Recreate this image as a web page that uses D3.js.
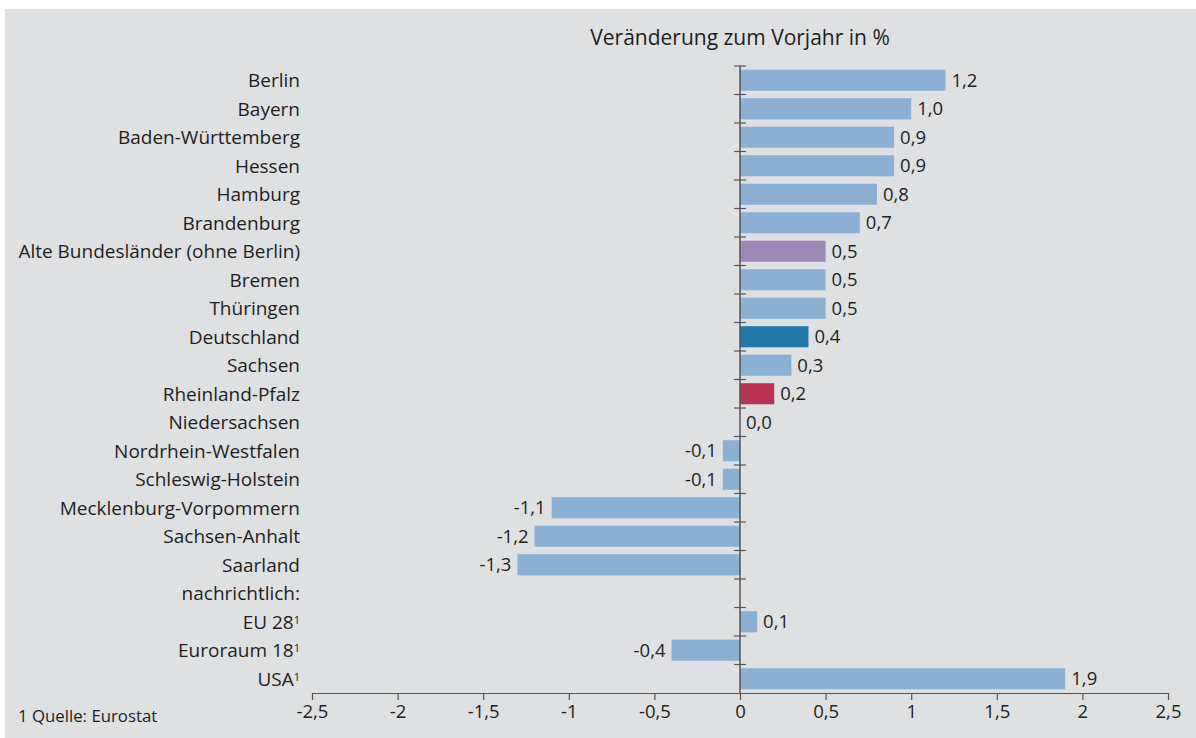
<!DOCTYPE html>
<html><head><meta charset="utf-8">
<script src="https://cdn.jsdelivr.net/npm/d3@7"></script>
<style>
html,body{margin:0;padding:0;background:#fff;}
svg{display:block;}
text{font-family:"Open Sans","Noto Sans",sans-serif;fill:#1e1e1e;}
</style></head>
<body>
<svg id="chart" width="1196" height="738"></svg>
<script>
const categories = ["Berlin","Bayern","Baden-Württemberg","Hessen","Hamburg","Brandenburg","Alte Bundesländer (ohne Berlin)","Bremen","Thüringen","Deutschland","Sachsen","Rheinland-Pfalz","Niedersachsen","Nordrhein-Westfalen","Schleswig-Holstein","Mecklenburg-Vorpommern","Sachsen-Anhalt","Saarland","nachrichtlich:","EU 28","Euroraum 18","USA"];
const values = [1.2,1.0,0.9,0.9,0.8,0.7,0.5,0.5,0.5,0.4,0.3,0.2,0.0,-0.1,-0.1,-1.1,-1.2,-1.3,null,0.1,-0.4,1.9];
const footnoted = ["EU 28","Euroraum 18","USA"];
const highlight = {"Alte Bundesländer (ohne Berlin)":"#9c89b5","Deutschland":"#1f78a9","Rheinland-Pfalz":"#b93255"};
const xTicks = [-2.5,-2,-1.5,-1,-0.5,0,0.5,1,1.5,2,2.5];
const title = "Veränderung zum Vorjahr in %";
const footnote = "1 Quelle: Eurostat";

const svg = d3.select("#chart");
svg.append("rect").attr("x",5).attr("y",9).attr("width",1191).attr("height",729).attr("fill","#dfe0e2");

const x = d3.scaleLinear().domain([-2.5,2.5]).range([312,1168]);
const y = d3.scaleBand().domain(categories).range([66,693]).paddingInner(0.26).paddingOuter(0.13);
const fmt = v => d3.format(".1f")(v).replace(".",",").replace("−","-");
const axisColor = "#555";

// bars
const data = categories.map((c,i)=>({c, v: values[i]}));
svg.append("g").selectAll("rect").data(data.filter(d=>d.v!==null)).join("rect")
  .attr("x", d=>x(Math.min(0,d.v)))
  .attr("y", d=>y(d.c))
  .attr("width", d=>Math.abs(x(d.v)-x(0)))
  .attr("height", y.bandwidth())
  .attr("fill", d=>highlight[d.c] || "#8ab1d3");

// value labels
svg.append("g").selectAll("text").data(data.filter(d=>d.v!==null)).join("text")
  .attr("x", d=> d.v<0 ? x(d.v)-6 : x(d.v)+6)
  .attr("y", d=>y(d.c)+y.bandwidth()/2)
  .attr("dy","0.36em")
  .attr("text-anchor", d=> d.v<0 ? "end":"start")
  .style("font-size","18.5px")
  .text(d=>fmt(d.v));

// category labels
const cl = svg.append("g").selectAll("text").data(categories).join("text")
  .attr("x",300)
  .attr("y", d=>y(d)+y.bandwidth()/2)
  .attr("dy","0.36em")
  .attr("text-anchor","end")
  .style("font-size","19px");
cl.append("tspan").text(d=>d);
cl.filter(d=>footnoted.includes(d)).append("tspan")
  .attr("dy","-0.45em").style("font-size","11px").text("1");

// y axis line and boundary ticks
const step = y.step();
const y0 = y.range()[0];
svg.append("line").attr("x1",x(0)).attr("x2",x(0)).attr("y1",y0).attr("y2",y.range()[1])
  .attr("stroke",axisColor).attr("stroke-width",1.5);
svg.append("g").selectAll("line").data(d3.range(categories.length)).join("line")
  .attr("x1",x(0)-6).attr("x2",x(0)+6)
  .attr("y1",i=>y0+i*step).attr("y2",i=>y0+i*step)
  .attr("stroke",axisColor).attr("stroke-width",1.2);

// x axis
const xAxis = d3.axisBottom(x).tickValues(xTicks).tickSize(7).tickSizeOuter(0)
  .tickFormat(d=> d3.format("")(d).replace(".",",").replace("−","-"));
const gx = svg.append("g").attr("transform",`translate(0,${y.range()[1]})`).call(xAxis);
gx.select(".domain").attr("stroke",axisColor).attr("stroke-width",1.2);
gx.selectAll(".tick line").attr("stroke",axisColor).attr("stroke-width",1.2);
gx.selectAll(".tick text").attr("y",12).style("font-size","18.5px").style("font-family",'"Open Sans","Noto Sans",sans-serif').attr("fill","#1e1e1e");

// title
svg.append("text").attr("x",x(0)).attr("y",37).attr("dy","0.36em").attr("text-anchor","middle")
  .style("font-size","21px").text(title);

// footnote
svg.append("text").attr("x",18).attr("y",716).attr("dy","0.36em").style("font-size","16.8px").text(footnote);
</script>
</body></html>
